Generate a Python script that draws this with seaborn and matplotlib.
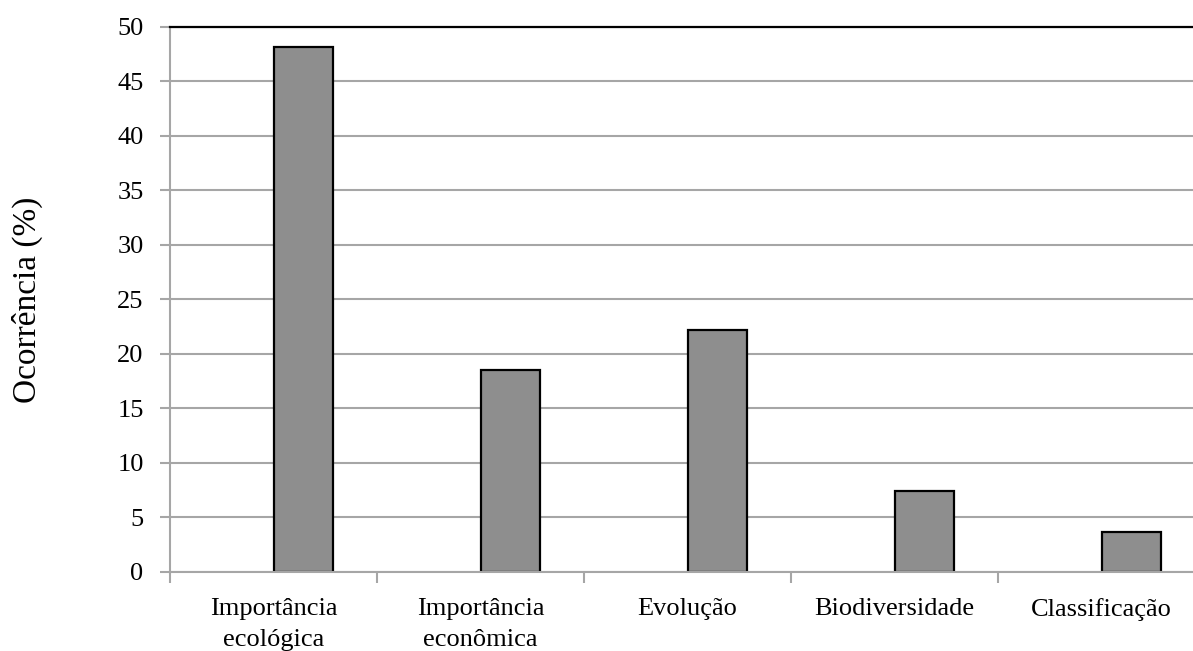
import matplotlib
matplotlib.use("Agg")
import matplotlib.pyplot as plt
import seaborn as sns
import pandas as pd
import numpy as np

categories = ["Importância\necológica", "Importância\neconômica", "Evolução",
              "Biodiversidade", "Classificação"]
occurrence = [48.2, 18.5, 22.2, 7.4, 3.7]
empty_series = [np.nan, np.nan, np.nan, np.nan, np.nan]
y_ticks = [0, 5, 10, 15, 20, 25, 30, 35, 40, 45, 50]
y_label = "Ocorrência (%)"

sns.set_theme(style="white")
plt.rcParams['font.family'] = ['Liberation Serif', 'DejaVu Serif']

df = pd.DataFrame({
    "cat": categories * 2,
    "val": empty_series + occurrence,
    "serie": ["vazio"] * len(categories) + ["ocorrencia"] * len(categories),
})

grid_col = "#a6a6a6"
fig = plt.figure(figsize=(11.93, 6.51), dpi=100)
ax = fig.add_axes([0.1425, 0.1214, 0.8676, 0.8372])
sns.barplot(data=df, x="cat", y="val", hue="serie", order=categories,
            hue_order=["vazio", "ocorrencia"], palette=["#8e8e8e", "#8e8e8e"],
            width=0.57, dodge=True, gap=0, edgecolor="black", linewidth=1.6,
            errorbar=None, legend=False, ax=ax)

ax.set_xlim(-0.5, len(categories) - 0.5)
ax.set_ylim(0, 50)
ax.set_yticks(y_ticks)
ax.yaxis.grid(True, color=grid_col, linewidth=1.5)
ax.xaxis.grid(False)
ax.set_axisbelow(True)

for s in ["left", "bottom"]:
    ax.spines[s].set_color(grid_col)
    ax.spines[s].set_linewidth(1.5)
ax.spines["top"].set_color("black")
ax.spines["top"].set_linewidth(1.6)
ax.spines["right"].set_visible(False)

ax.set_xticks([i - 0.5 for i in range(len(categories) + 1)],
              labels=[""] * (len(categories) + 1))
ax.set_xticks(range(len(categories)), labels=categories, minor=True)
for lbl in ax.get_xticklabels(minor=True):
    lbl.set_linespacing(1.5)
ax.tick_params(axis="x", which="major", length=8, width=1.5, color=grid_col,
               direction="out", bottom=True)
ax.tick_params(axis="x", which="minor", length=0, pad=19, labelsize=19,
               labelcolor="black", bottom=True)
ax.tick_params(axis="y", length=7, width=1.5, color=grid_col, direction="out",
               pad=12, labelsize=19, labelcolor="black", left=True)

ax.set_xlabel("")
ax.set_ylabel(y_label, fontsize=24, color="black")
ax.yaxis.set_label_coords(-0.123, 0.5)

fig.savefig("out.png", dpi=100)
